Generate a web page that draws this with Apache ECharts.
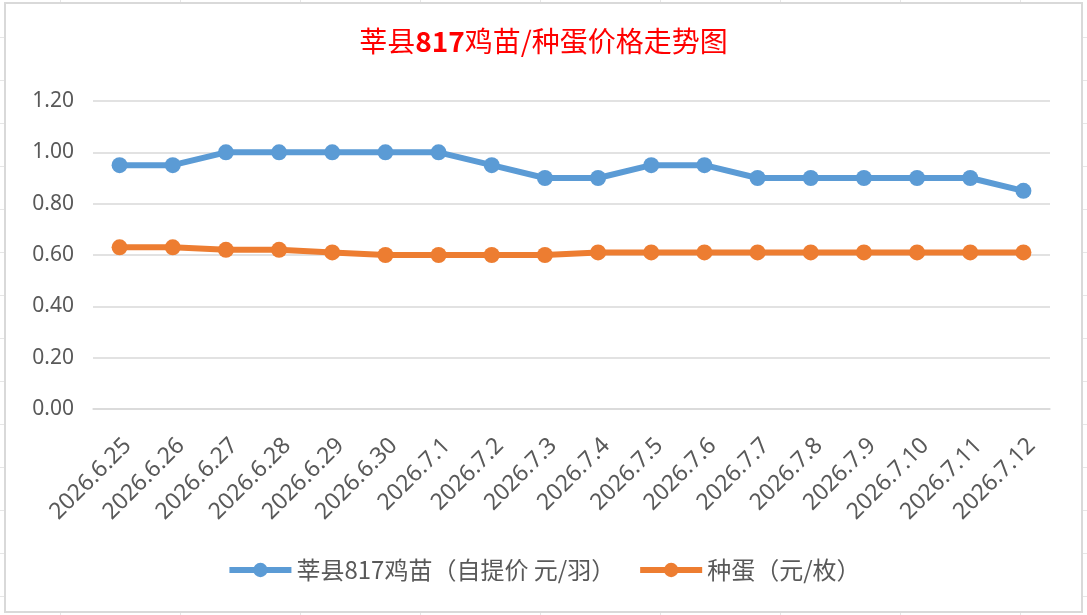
<!DOCTYPE html>
<html>
<head>
<meta charset="utf-8">
<title>莘县817鸡苗/种蛋价格走势图</title>
<script src="https://cdn.jsdelivr.net/npm/echarts@6/dist/echarts.min.js"></script>
<style>
    html, body {
        margin: 0;
        padding: 0;
        width: 1087px;
        height: 615px;
        overflow: hidden;
        background-color: #fff;
        /* faint sheet cells behind the chart */
        background-image:
            linear-gradient(to bottom, #e6e6e6 1px, transparent 1px),
            linear-gradient(to right, #e6e6e6 1px, transparent 1px);
        background-size: 100% 43px, 120px 100%;
        background-position: 0 37px, 60px 0;
    }
    #chart-box {
        position: absolute;
        left: 4px;
        top: 2px;
        width: 1079px;
        height: 611px;
        box-sizing: border-box;
        border: 2px solid #d9d9d9;
        background: #fff;
    }
    #line-chart {
        width: 100%;
        height: 100%;
    }
</style>
</head>
<body>
<div id="chart-box"><div id="line-chart"></div></div>
<script>
// 日期
var dates = ['2026.6.25', '2026.6.26', '2026.6.27', '2026.6.28', '2026.6.29', '2026.6.30',
    '2026.7.1', '2026.7.2', '2026.7.3', '2026.7.4', '2026.7.5', '2026.7.6',
    '2026.7.7', '2026.7.8', '2026.7.9', '2026.7.10', '2026.7.11', '2026.7.12'];

// 鸡苗 自提价 元/羽
var chickPrice = [0.95, 0.95, 1.00, 1.00, 1.00, 1.00, 1.00, 0.95, 0.90, 0.90, 0.95, 0.95,
    0.90, 0.90, 0.90, 0.90, 0.90, 0.85];

// 种蛋 元/枚
var eggPrice = [0.63, 0.63, 0.62, 0.62, 0.61, 0.60, 0.60, 0.60, 0.60, 0.61, 0.61, 0.61,
    0.61, 0.61, 0.61, 0.61, 0.61, 0.61];

var seriesNames = ['莘县817鸡苗（自提价 元/羽）', '种蛋（元/枚）'];

var myChart = echarts.init(document.getElementById('line-chart'));

var cjkFont = '"Noto Sans CJK SC", "Noto Sans", sans-serif';
var numFont = '"Noto Sans", "Noto Sans CJK SC", sans-serif';

var option = {
    animation: false,
    title: {
        text: '{a|莘县}{b|817}{a|鸡苗/种蛋价格走势图}',
        left: 'center',
        top: 18,
        textStyle: {
            rich: {
                a: {color: '#ff0000', fontSize: 28, fontFamily: cjkFont, fontWeight: 'normal'},
                b: {color: '#ff0000', fontSize: 28, fontFamily: cjkFont, fontWeight: 'bold'}
            }
        }
    },
    legend: {
        data: seriesNames,
        bottom: 24,
        left: 'center',
        itemWidth: 62,
        itemHeight: 18,
        itemGap: 22,
        lineStyle: {width: 6},
        textStyle: {
            color: '#595959',
            fontSize: 24,
            fontFamily: cjkFont
        }
    },
    grid: {
        left: 87,
        right: 31,
        top: 97,
        bottom: 202,
        containLabel: false
    },
    xAxis: {
        type: 'category',
        data: dates,
        boundaryGap: true,
        axisLine: {show: true, lineStyle: {color: '#d9d9d9', width: 1.5}},
        axisTick: {show: false},
        axisLabel: {
            rotate: 45,
            margin: 25,
            interval: 0,
            verticalAlign: 'top',
            color: '#595959',
            fontSize: 23,
            fontFamily: numFont
        }
    },
    yAxis: {
        type: 'value',
        min: 0,
        max: 1.2,
        interval: 0.2,
        axisLine: {show: false},
        axisTick: {show: false},
        splitLine: {lineStyle: {color: '#d9d9d9', width: 1.5}},
        axisLabel: {
            margin: 19,
            color: '#595959',
            fontSize: 21,
            fontFamily: numFont,
            formatter: function (v) {
                return v.toFixed(2);
            }
        }
    },
    series: [
        {
            name: seriesNames[0],
            type: 'line',
            data: chickPrice,
            symbol: 'circle',
            symbolSize: 16,
            lineStyle: {color: '#5b9bd5', width: 6},
            itemStyle: {color: '#5b9bd5'}
        },
        {
            name: seriesNames[1],
            type: 'line',
            data: eggPrice,
            symbol: 'circle',
            symbolSize: 16,
            lineStyle: {color: '#ed7d31', width: 6},
            itemStyle: {color: '#ed7d31'}
        }
    ]
};

myChart.setOption(option);
</script>
</body>
</html>
